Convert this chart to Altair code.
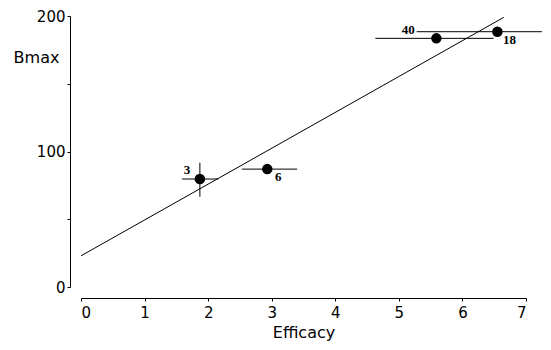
import altair as alt
import pandas as pd

# data
efficacy = [1.87, 2.93, 5.59, 6.55]
bmax = [79.7, 87.0, 183.5, 188.4]
labels = ["3", "6", "40", "18"]
x_lo = [1.59, 2.53, 4.63, 5.28]
x_hi = [2.16, 3.40, 6.49, 7.25]
y_lo = [66.6, 87.0, 183.5, 188.4]
y_hi = [91.8, 87.0, 183.5, 188.4]
label_dx = [-13, 11, -28, 12]
label_dy = [-9, 8, -8, 8]

fit_x = [0.0, 6.65]
fit_y = [23.0, 199.0]

df = pd.DataFrame({"e": efficacy, "b": bmax, "lab": labels,
                   "xlo": x_lo, "xhi": x_hi, "ylo": y_lo, "yhi": y_hi,
                   "dx": label_dx, "dy": label_dy})
fit = pd.DataFrame({"e": fit_x, "b": fit_y})

FONT = "DejaVu Sans"
xs = alt.Scale(domain=[0, 7], nice=False, zero=False)
ys = alt.Scale(domain=[0, 200], nice=False, zero=False)

xaxis = alt.Axis(values=[0, 1, 2, 3, 4, 5, 6, 7], format="d", offset=11,
                 grid=False, tickSize=3, labelFontSize=15, labelFont=FONT,
                 labelColor="black", domainColor="black", tickColor="black",
                 title="Efficacy", titleFont=FONT, titleFontSize=16,
                 titleFontWeight="normal", titleColor="black", titlePadding=4,
                 labelPadding=4)
yaxis = alt.Axis(values=[0, 50, 100, 150, 200], offset=11, grid=False,
                 tickSize=3, labelFontSize=15, labelFont=FONT, labelColor="black",
                 labelExpr="datum.value % 100 == 0 ? datum.label : ''",
                 domainColor="black", tickColor="black",
                 title="Bmax", titleAngle=0, titleX=-34, titleY=41,
                 titleAlign="center", titleBaseline="middle",
                 titleFont=FONT, titleFontSize=16, titleFontWeight="normal",
                 titleColor="black", labelPadding=2)

base = alt.Chart(df)

line = alt.Chart(fit).mark_line(color="black", strokeWidth=1, clip=True).encode(
    x=alt.X("e:Q", scale=xs, axis=xaxis),
    y=alt.Y("b:Q", scale=ys, axis=yaxis),
)

hbar = base.mark_rule(color="black", strokeWidth=1).encode(
    x=alt.X("xlo:Q", scale=xs), x2="xhi:Q", y=alt.Y("b:Q", scale=ys))

vbar = base.transform_filter("datum.ylo != datum.yhi").mark_rule(
    color="black", strokeWidth=1).encode(
    x=alt.X("e:Q", scale=xs), y=alt.Y("ylo:Q", scale=ys), y2="yhi:Q")

pts = base.mark_circle(color="black", opacity=1, size=110).encode(
    x=alt.X("e:Q", scale=xs), y=alt.Y("b:Q", scale=ys))

texts = []
for i in range(len(labels)):
    texts.append(
        alt.Chart(df.iloc[[i]]).mark_text(
            font="Liberation Sans Narrow", fontWeight="bold", fontSize=13,
            color="black", dx=label_dx[i], dy=label_dy[i]
        ).encode(x=alt.X("e:Q", scale=xs), y=alt.Y("b:Q", scale=ys), text="lab:N")
    )

chart = alt.layer(line, hbar, vbar, pts, *texts).properties(
    width=445, height=271,
    autosize=alt.AutoSizeParams(type="none"),
    padding={"left": 73, "top": 8, "right": 17, "bottom": 55},
).configure_view(stroke=None)

chart.save("out.html", embed_options={"renderer": "svg", "actions": False})
